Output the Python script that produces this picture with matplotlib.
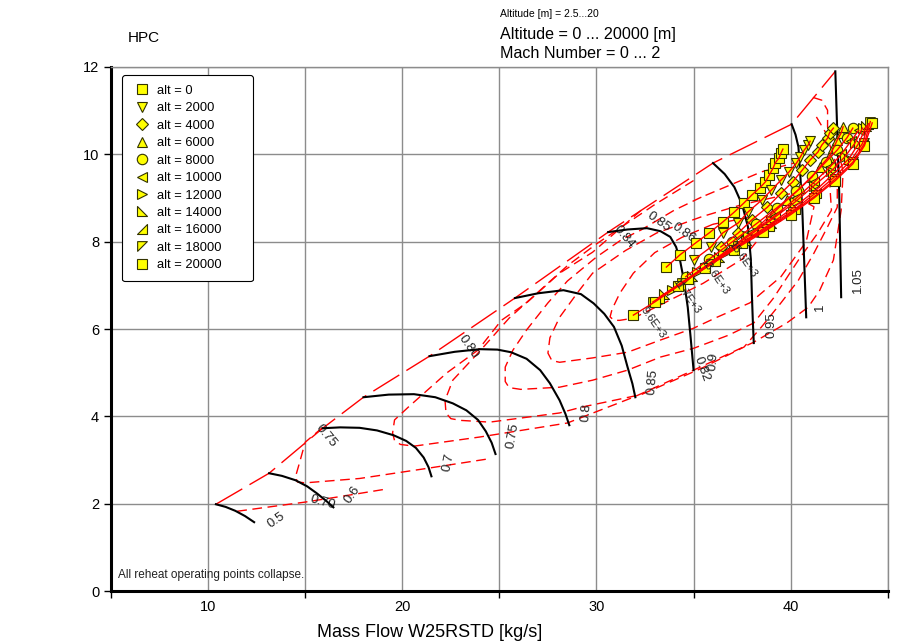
import matplotlib
matplotlib.use("Agg")
import matplotlib.pyplot as plt
from matplotlib.path import Path

plt.rcParams["font.family"] = ["Liberation Sans", "DejaVu Sans"]

# speed lines (relative corrected speed), surge side first
speed_values = [0.5, 0.6, 0.7, 0.75, 0.8, 0.85, 0.9, 0.95, 1, 1.05]
speed_x = [
    [10.4, 10.9, 11.4, 11.9, 12.37],
    [13.14, 13.8, 14.5, 15.1, 15.6, 16.1, 16.45],
    [15.9, 16.8, 17.8, 18.7, 19.55, 20.2, 20.7, 21.1, 21.35, 21.5],
    [18.0, 19.3, 20.6, 21.7, 22.6, 23.3, 23.9, 24.3, 24.6, 24.8],
    [21.4, 22.7, 24.0, 24.9, 25.6, 26.4, 27.1, 27.6, 28.1, 28.4, 28.6],
    [25.8, 27.0, 28.3, 29.2, 29.85, 30.4, 30.9, 31.3, 31.6, 31.85, 32.0],
    [30.6, 31.6, 32.6, 33.3, 33.8, 34.1, 34.3, 34.5, 34.7, 34.85, 35.0],
    [36.0, 36.6, 37.1, 37.5, 37.8, 37.95, 38.0, 38.05, 38.1],
    [40.05, 40.25, 40.4, 40.5, 40.6, 40.7, 40.8],
    [42.3, 42.4, 42.5, 42.55, 42.6],
]
speed_y = [
    [1.99, 1.93, 1.84, 1.72, 1.58],
    [2.70, 2.64, 2.54, 2.40, 2.24, 2.06, 1.92],
    [3.73, 3.75, 3.74, 3.68, 3.57, 3.44, 3.28, 3.06, 2.84, 2.63],
    [4.44, 4.50, 4.51, 4.44, 4.30, 4.14, 3.92, 3.66, 3.40, 3.14],
    [5.38, 5.48, 5.54, 5.53, 5.47, 5.32, 5.06, 4.76, 4.37, 4.06, 3.80],
    [6.71, 6.82, 6.89, 6.80, 6.59, 6.35, 6.05, 5.62, 5.13, 4.75, 4.44],
    [8.22, 8.28, 8.31, 8.24, 8.11, 7.88, 7.58, 7.12, 6.50, 5.80, 5.06],
    [9.80, 9.55, 9.25, 8.85, 8.34, 7.60, 6.82, 6.20, 5.68],
    [10.69, 10.45, 10.17, 9.50, 8.72, 7.50, 6.27],
    [11.90, 10.50, 9.11, 7.90, 6.73],
]
speed_label_xy = [(13.5, 1.62), (17.4, 2.2), (22.4, 2.95), (25.7, 3.55), (29.5, 4.08),
                  (32.9, 4.8), (36.0, 5.25), (39.0, 6.1), (41.5, 6.5), (43.45, 7.12)]
speed_label_rot = [35, 55, 78, 80, 85, 85, 85, 90, 90, 90]

surge_x = [10.4, 13.14, 15.9, 18.0, 21.4, 25.8, 30.6, 36.0, 40.05, 42.3]
surge_y = [1.99, 2.70, 3.73, 4.44, 5.38, 6.71, 8.22, 9.80, 10.69, 11.9]

# isentropic efficiency contours
eff_levels = [0.70, 0.75, 0.80, 0.82, 0.84, 0.85, 0.86]
eff_x = [
    [11.5, 13.0, 15.0, 17.0, 19.2],
    [24.3, 21.4, 17.8, 15.0, 14.6, 14.5, 14.7, 15.0, 15.9],
    [32.3, 29.8, 28.1, 26.4, 25.1, 23.9, 22.3, 20.3, 19.6, 19.5, 19.6, 19.9, 20.6, 24.0, 28.5,
     31.9, 35.0, 38.1, 39.8, 40.9, 41.5, 42.2, 42.6, 42.7, 42.4, 41.9, 41.9, 41.6, 41.1],
    [35.0, 33.0, 31.5, 30.0, 28.5, 27.0, 25.5, 24.0, 22.6, 22.2, 22.25, 22.5, 23.0, 24.5, 28.1,
     29.2, 32.3, 35.4, 37.6, 38.5, 39.5, 40.4, 41.2, 41.9, 42.4, 42.4, 41.8, 41.2],
    [35.4, 34.0, 32.3, 31.3, 30.0, 28.5, 27.5, 26.4, 25.7, 25.3, 25.3, 25.5, 26.1, 28.1, 29.8,
     31.6, 33.3, 35.0, 36.8, 38.1, 39.1, 40.4, 41.4, 42.1, 42.0, 41.0, 38.5, 35.4],
    [35.4, 33.1, 31.5, 29.8, 29.0, 28.1, 27.6, 27.5, 27.7, 28.1, 29.8, 31.6, 33.3, 35.0, 36.2,
     37.9, 39.5, 40.8, 41.2, 40.0, 37.5, 35.4],
    [36.0, 34.4, 33.0, 31.9, 31.2, 30.8, 30.7, 30.9, 31.2, 31.9, 33.5, 35.5, 37.5, 38.8, 37.8,
     36.0],
]
eff_y = [
    [1.83, 1.92, 2.04, 2.18, 2.34],
    [3.02, 2.82, 2.58, 2.48, 2.50, 2.62, 2.93, 3.41, 3.75],
    [8.72, 7.76, 7.28, 6.60, 6.20, 5.52, 5.00, 4.21, 3.92, 3.62, 3.45, 3.36, 3.32, 3.53, 3.85,
     4.44, 5.06, 5.70, 6.14, 6.50, 6.89, 7.58, 8.72, 9.60, 10.2, 10.62, 11.01, 11.24, 11.31],
    [9.40, 8.85, 8.40, 7.95, 7.45, 6.85, 6.25, 5.50, 4.83, 4.37, 4.08, 3.95, 3.91, 3.87, 4.08,
     4.21, 4.50, 5.10, 5.59, 6.05, 6.60, 7.12, 7.74, 8.34, 8.79, 9.70, 10.5, 10.95],
    [9.02, 8.72, 8.27, 8.05, 7.65, 7.10, 6.60, 5.98, 5.52, 5.13, 4.80, 4.66, 4.62, 4.67, 4.83,
     5.06, 5.36, 5.56, 5.86, 6.14, 6.70, 7.58, 8.20, 8.72, 9.40, 9.90, 9.60, 9.02],
    [8.57, 8.20, 7.80, 7.28, 6.82, 6.27, 5.80, 5.45, 5.28, 5.24, 5.34, 5.47, 5.75, 6.02, 6.27,
     6.60, 7.20, 8.00, 8.80, 9.10, 8.85, 8.57],
    [8.40, 8.10, 7.75, 7.28, 6.82, 6.45, 6.28, 6.20, 6.20, 6.25, 6.60, 7.05, 7.60, 8.30, 8.55,
     8.40],
]
eff_label_text = ["0.70", "0.75", "0.80", "0.82", "0.84", "0.85", "0.86"]
eff_label_xy = [(15.9, 2.04), (16.1, 3.55), (23.4, 5.6), (35.4, 5.08), (31.4, 8.1),
                (33.2, 8.45), (34.5, 8.2)]
eff_label_rot = [-15, -50, -55, -70, -50, -35, -35]

# operating points, one series per altitude [m]
altitudes = [0, 2000, 4000, 6000, 8000, 10000, 12000, 14000, 16000, 18000, 20000]
op_x = [
    [33.6, 34.3, 35.1, 35.8, 36.5, 37.1, 37.6, 38.0, 38.4, 38.7, 38.9, 39.1, 39.2, 39.4, 39.5, 39.6],
    [35.0, 35.9, 36.5, 37.3, 37.8, 38.5, 39.0, 39.5, 39.9, 40.3, 40.5, 40.7, 40.9, 41.0],
    [36.4, 37.3, 38.0, 38.8, 39.5, 40.1, 40.6, 41.0, 41.4, 41.6, 41.9, 42.0, 42.2],
    [38.3, 39.1, 39.8, 40.5, 41.1, 41.5, 41.96, 42.2, 42.4, 42.6, 42.7],
    [34.6, 35.8, 37.0, 38.2, 39.3, 40.3, 41.1, 41.8, 42.4, 42.9, 43.2],
    [34.3, 35.5, 36.8, 38.0, 39.2, 40.3, 41.2, 42.0, 42.6, 43.1, 43.5],
    [33.9, 35.2, 36.5, 37.8, 39.0, 40.2, 41.2, 42.1, 42.8, 43.3, 43.7],
    [33.5, 34.9, 36.3, 37.7, 39.0, 40.2, 41.3, 42.2, 43.0, 43.5, 43.9],
    [33.2, 34.7, 36.1, 37.5, 38.9, 40.2, 41.3, 42.3, 43.1, 43.7, 44.0],
    [32.9, 34.4, 35.9, 37.3, 38.8, 40.1, 41.3, 42.3, 43.2, 43.8, 44.1],
    [31.9, 33.0, 34.2, 35.6, 37.1, 38.6, 40.0, 41.2, 42.3, 43.2, 43.8, 44.2],
]
op_y = [
    [7.42, 7.70, 7.97, 8.20, 8.45, 8.68, 8.89, 9.07, 9.23, 9.37, 9.53, 9.69, 9.80, 9.92, 10.03, 10.12],
    [7.58, 7.88, 8.20, 8.43, 8.68, 8.95, 9.18, 9.41, 9.59, 9.80, 9.94, 10.10, 10.21, 10.30],
    [7.88, 8.20, 8.50, 8.79, 9.11, 9.37, 9.64, 9.87, 10.05, 10.21, 10.37, 10.49, 10.60],
    [8.34, 8.66, 8.95, 9.23, 9.48, 9.71, 9.94, 10.14, 10.33, 10.49, 10.63],
    [7.20, 7.60, 8.00, 8.40, 8.78, 9.15, 9.50, 9.82, 10.10, 10.38, 10.60],
    [7.00, 7.40, 7.82, 8.22, 8.60, 9.00, 9.36, 9.70, 10.00, 10.30, 10.55],
    [6.90, 7.30, 7.72, 8.12, 8.50, 8.90, 9.28, 9.62, 9.95, 10.25, 10.60],
    [6.80, 7.22, 7.64, 8.04, 8.42, 8.80, 9.18, 9.55, 9.90, 10.25, 10.65],
    [6.72, 7.15, 7.56, 7.96, 8.36, 8.74, 9.12, 9.50, 9.86, 10.25, 10.70],
    [6.62, 7.06, 7.48, 7.90, 8.30, 8.68, 9.06, 9.44, 9.82, 10.25, 10.75],
    [6.32, 6.62, 6.98, 7.40, 7.82, 8.22, 8.62, 9.00, 9.40, 9.78, 10.20, 10.72],
]
point_tags = ["9.6E+3", "11.7E+3", "13.6E+3", "15.6E+3"]
point_tag_xy = [(32.9, 6.15), (34.6, 6.75), (36.1, 7.2), (37.5, 7.6)]

# right-angle triangles for the three altitude symbols without a built-in marker
tri_bl = Path([(-1, 1), (-1, -1), (1, -1), (-1, 1)], closed=True)
tri_br = Path([(1, 1), (1, -1), (-1, -1), (1, 1)], closed=True)
tri_tl = Path([(-1, 1), (1, 1), (-1, -1), (-1, 1)], closed=True)
markers = ["s", "v", "D", "^", "o", "<", ">", tri_bl, tri_br, tri_tl, "s"]
marker_sizes = [7, 7, 6, 7, 7.5, 7, 7, 7, 7, 7, 7]

fig = plt.figure(figsize=(8.99, 6.44), dpi=100)
ax = fig.add_axes([0.1235, 0.082, 0.864, 0.814])

for xs, ys in zip(eff_x, eff_y):
    ax.plot(xs, ys, color="red", lw=1.0, dashes=(7, 4), zorder=2)
for lbl, (lx, ly), rot in zip(eff_label_text, eff_label_xy, eff_label_rot):
    ax.text(lx, ly, lbl, fontsize=9.5, rotation=rot, ha="center", va="center",
            color="#222222", zorder=3)

ax.plot(surge_x, surge_y, color="red", lw=1.0, dashes=(22, 6), zorder=2)

for xs, ys in zip(speed_x, speed_y):
    ax.plot(xs, ys, color="black", lw=1.5, zorder=3, solid_joinstyle="round")
for sv, (lx, ly), rot in zip(speed_values, speed_label_xy, speed_label_rot):
    ax.text(lx, ly, f"{sv:g}", fontsize=9.5, rotation=rot, ha="center", va="center",
            color="#222222", zorder=3)

for alt, xs, ys, mk, ms in zip(altitudes, op_x, op_y, markers, marker_sizes):
    ax.plot(xs, ys, ls="none", marker=mk, ms=ms, mfc="#ffff00", mec="#333300",
            mew=0.8, zorder=4, label=f"alt = {alt}      ")
for xs, ys in zip(op_x, op_y):
    ax.plot(xs, ys, color="red", lw=1.0, zorder=5)
for tag, (tx, ty) in zip(point_tags, point_tag_xy):
    ax.text(tx, ty, tag, fontsize=8, rotation=-55, ha="center", va="center",
            color="#222222", zorder=6)

ax.set_xlim(5, 45)
ax.set_ylim(0, 12)
ax.set_xticks([10, 20, 30, 40])
ax.set_xticks([5, 15, 25, 35, 45], minor=True)
ax.set_yticks(range(0, 13, 2))
ax.tick_params(axis="x", which="major", length=0, labelsize=10.5, pad=6)
ax.tick_params(axis="x", which="minor", length=5, width=1, direction="out")
ax.tick_params(axis="y", labelsize=10.5, length=5, width=1, direction="out")
ax.grid(True, which="both", color="#8c8c8c", lw=1.0)
ax.set_axisbelow(True)
for side in ("left", "bottom"):
    ax.spines[side].set_linewidth(2.2)
    ax.spines[side].set_color("black")
for side in ("top", "right"):
    ax.spines[side].set_linewidth(1.0)
    ax.spines[side].set_color("#8c8c8c")

ax.set_xlabel("Mass Flow W25RSTD [kg/s]", fontsize=13)
ax.xaxis.set_label_coords(0.41, -0.079, transform=ax.transAxes)
ax.xaxis.label.set_va("center")
ax.text(5.35, 0.3, "All reheat operating points collapse.", fontsize=8.5, color="#222222")

leg = ax.legend(loc="upper left", bbox_to_anchor=(0.006, 0.997), fontsize=9.3,
                frameon=True, fancybox=True, handletextpad=0.35, labelspacing=0.42,
                borderpad=0.75, handlelength=1.6, markerscale=1.0)
leg.get_frame().set_edgecolor("black")
leg.get_frame().set_linewidth(0.8)
leg.get_frame().set_alpha(1.0)
for h in leg.legend_handles:
    h.set_color("none")
    h.set_markerfacecolor("#ffff00")
    h.set_markeredgecolor("#333300")

fig.text(128 / 899, 1 - 38 / 644, "HPC", fontsize=11, va="center", ha="left")
fig.text(500 / 899, 1 - 14 / 644, "Altitude [m] = 2.5...20", fontsize=7.5, va="center")
fig.text(500 / 899, 1 - 34 / 644, "Altitude = 0 ... 20000 [m]", fontsize=11.6, va="center")
fig.text(500 / 899, 1 - 54 / 644, "Mach Number = 0 ... 2", fontsize=11.6, va="center")

fig.savefig("out.png", dpi=100)
